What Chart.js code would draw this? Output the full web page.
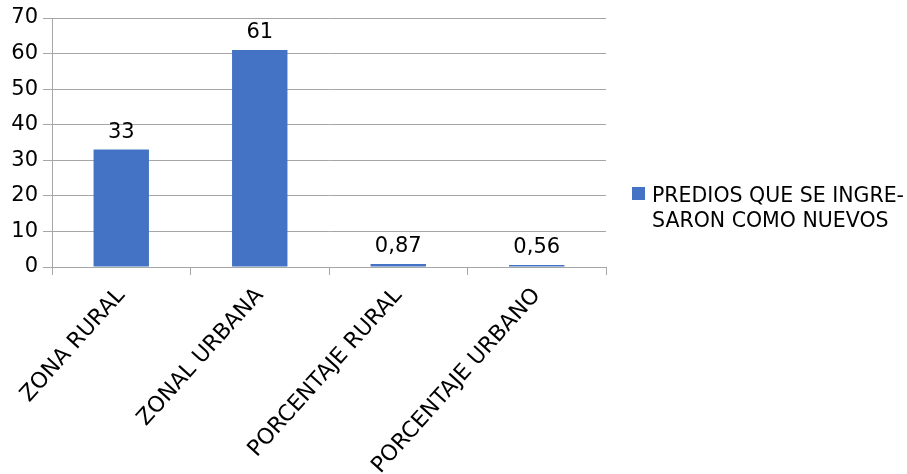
<!DOCTYPE html>
<html>
<head>
<meta charset="utf-8">
<script src="https://cdn.jsdelivr.net/npm/chart.js@4"></script>
<style>
  html, body { margin: 0; padding: 0; background: #fff; }
  #wrap { position: relative; width: 907px; height: 474px; }
  #legend {
    position: absolute; left: 632px; top: 183px; white-space: nowrap;
    font-family: "DejaVu Sans", sans-serif; font-size: 20.5px; line-height: 25px; color: #000;
  }
  #legend .box { position: absolute; left: 0; top: 4px; width: 13px; height: 13px; background: #4472C4; }
  #legend .txt { margin-left: 20px; }
</style>
</head>
<body>
<div id="wrap">
  <canvas id="myChart" width="907" height="474"></canvas>
  <div id="legend"><span class="box"></span><div class="txt">PREDIOS QUE SE INGRE-<br>SARON COMO NUEVOS</div></div>
</div>
<script>
// data
var categories = ['ZONA RURAL', 'ZONAL URBANA', 'PORCENTAJE RURAL', 'PORCENTAJE URBANO'];
var values = [33, 61, 0.87, 0.56];
var valueLabels = ['33', '61', '0,87', '0,56'];
var yTicks = [0, 10, 20, 30, 40, 50, 60, 70];
var seriesName = 'PREDIOS QUE SE INGRESARON COMO NUEVOS';

var fontFam = '"DejaVu Sans", sans-serif';
Chart.defaults.font.family = fontFam;
Chart.defaults.color = '#000';

// draws the numbers above the bars
var valuePlugin = {
  id: 'valueLabels',
  afterDatasetsDraw: function(chart) {
    var ctx = chart.ctx;
    var meta = chart.getDatasetMeta(0);
    ctx.save();
    ctx.font = '21px ' + fontFam;
    ctx.fillStyle = '#000';
    ctx.textAlign = 'center';
    ctx.textBaseline = 'bottom';
    meta.data.forEach(function(bar, i) {
      ctx.fillText(valueLabels[i], bar.x, bar.y - 7);
    });
    ctx.restore();
  }
};

var ctx = document.getElementById('myChart').getContext('2d');
var myChart = new Chart(ctx, {
  type: 'bar',
  data: {
    labels: categories,
    datasets: [{
      label: seriesName,
      data: values,
      backgroundColor: '#4472C4',
      borderWidth: 0,
      categoryPercentage: 1,
      barPercentage: 0.4
    }]
  },
  options: {
    responsive: false,
    animation: false,
    layout: { padding: { top: 18, right: 301, left: 0, bottom: 0 } },
    plugins: { legend: { display: false }, tooltip: { enabled: false } },
    scales: {
      x: {
        grid: { drawOnChartArea: false, drawTicks: true, tickLength: 8, color: '#a6a6a6', offset: true },
        border: { color: '#a6a6a6' },
        ticks: { font: { size: 22 }, maxRotation: 48, minRotation: 48, padding: 8, autoSkip: false },
        afterFit: function(scale) { scale.height = 207; }
      },
      y: {
        min: 0, max: 70,
        afterBuildTicks: function(scale) { scale.ticks = yTicks.map(function(v) { return { value: v }; }); },
        grid: { color: '#a6a6a6', tickLength: 9 },
        border: { color: '#a6a6a6' },
        ticks: { font: { size: 21 }, padding: 5 },
        afterFit: function(scale) { scale.width = 52; }
      }
    }
  },
  plugins: [valuePlugin]
});
</script>
</body>
</html>
